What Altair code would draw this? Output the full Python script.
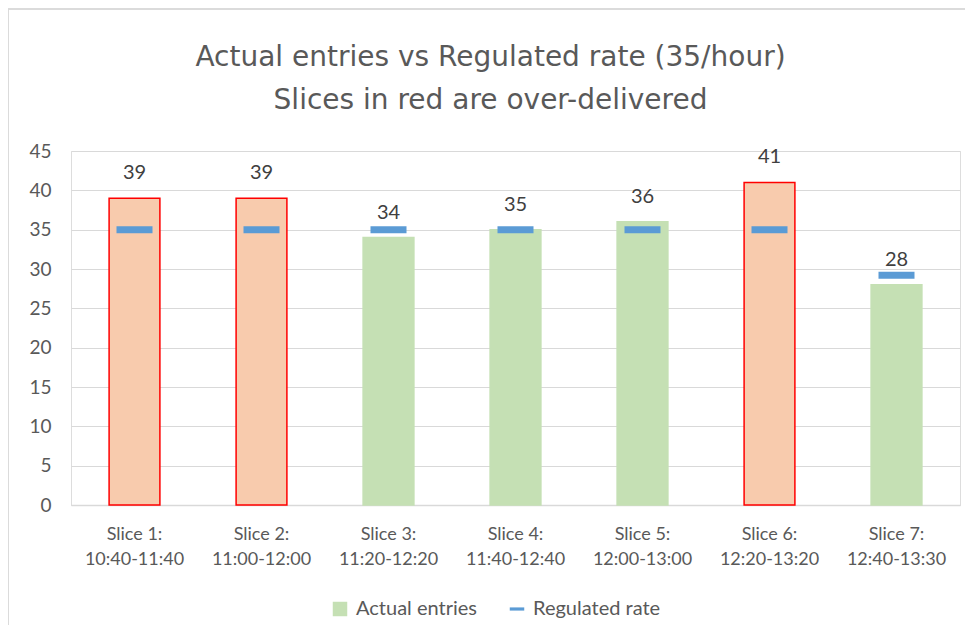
import altair as alt
import pandas as pd

slices = ["Slice 1:\n10:40-11:40", "Slice 2:\n11:00-12:00", "Slice 3:\n11:20-12:20",
          "Slice 4:\n11:40-12:40", "Slice 5:\n12:00-13:00", "Slice 6:\n12:20-13:20",
          "Slice 7:\n12:40-13:30"]
actual = [39, 39, 34, 35, 36, 41, 28]
regulated = [35, 35, 35, 35, 35, 35, 29.2]
over_delivered = [True, True, False, False, False, True, False]
series = ["Actual entries", "Regulated rate"]
y_ticks = [0, 5, 10, 15, 20, 25, 30, 35, 40, 45]

df = pd.DataFrame({"slice": slices, "actual": actual, "rate": regulated,
                   "over": over_delivered})
leg = pd.DataFrame({"series": series})

FONT = "Lato"
TFONT = "DejaVu Sans"
GREEN = "#C5E0B4"
ORANGE = "#F8CBAD"
RED = "#FF0000"
BLUE = "#5B9BD5"
GRID = "#D9D9D9"
TXT = "#595959"
W, H = 889, 354

x_axis = alt.Axis(labelAngle=0, labelExpr="split(datum.label, '\\n')",
                  labelFontSize=18, labelColor=TXT, labelLineHeight=25,
                  labelPadding=20, ticks=False, domainColor=GRID,
                  domainWidth=1.5, labelFont=FONT)
y_axis = alt.Axis(values=y_ticks, tickCount=10, ticks=False, domain=False,
                  labelOverlap=False, gridColor=GRID, gridWidth=1.2, labelFontSize=19,
                  labelColor=TXT, labelPadding=20, labelFont=FONT)
x_scale = alt.Scale(paddingInner=0.6, paddingOuter=0.3)
y_scale = alt.Scale(domain=[0, 45], nice=False)


def xe():
    return alt.X("slice:N", sort=slices, title=None, scale=x_scale, axis=x_axis)


def ye(field):
    return alt.Y(field, title=None, scale=y_scale, axis=y_axis)


over = alt.datum.over

bars = alt.Chart(df).mark_bar(strokeWidth=1.5).encode(
    x=xe(), y=ye("actual:Q"),
    fill=alt.condition(over, alt.value(ORANGE), alt.value(GREEN)),
    stroke=alt.condition(over, alt.value(RED), alt.value(GREEN)),
)

ticks = alt.Chart(df).mark_tick(thickness=7, size=36, color=BLUE, opacity=1).encode(
    x=xe(), y=ye("rate:Q")
)

labels = alt.Chart(df).mark_text(dy=-25, fontSize=20, color="#404040", font=FONT).encode(
    x=xe(), y=ye("actual:Q"), text=alt.Text("actual:Q")
)

legend_cfg = dict(title=None, orient="none", direction="horizontal", legendX=259, legendY=448,
                  labelFontSize=20, labelColor=TXT, labelFont=FONT,
                  symbolOpacity=1, symbolSize=210, symbolStrokeWidth=0,
                  columnPadding=30, labelOffset=6)

legend_layer = alt.Chart(leg).mark_point(filled=True, opacity=0, size=200).encode(
    color=alt.Color("series:N", sort=series,
                    scale=alt.Scale(domain=series, range=[GREEN, BLUE]),
                    legend=alt.Legend(**legend_cfg)),
    shape=alt.Shape("series:N", sort=series,
                    scale=alt.Scale(domain=series,
                                    range=["square", "M-1,-0.22H1V0.22H-1Z"]),
                    legend=alt.Legend(**legend_cfg)),
)

# chart-area frame (top and left edges, as in the reference)
frame_top = alt.Chart(leg).mark_rule(color=GRID, strokeWidth=1.5).encode(
    x=alt.value(-63), x2=alt.value(W + 20), y=alt.value(-142)
)
frame_left = alt.Chart(leg).mark_rule(color=GRID, strokeWidth=1.5).encode(
    x=alt.value(-63), y=alt.value(-142), y2=alt.value(H + 130)
)

chart = alt.layer(frame_top, frame_left, bars, ticks, labels, legend_layer).properties(
    width=W, height=H,
    title=alt.Title(["Actual entries vs Regulated rate (35/hour)",
                     "Slices in red are over-delivered"],
                    fontSize=28, font=TFONT, color=TXT, fontWeight="normal",
                    lineHeight=43, offset=-107, anchor="middle", dx=-25, frame="group"),
    autosize=alt.AutoSizeParams(type="none"),
    padding={"left": 63, "top": 143, "right": 5, "bottom": 120},
).configure_view(strokeOpacity=0).configure(background="white")

chart.save("out.html", embed_options={"renderer": "svg", "actions": False})
